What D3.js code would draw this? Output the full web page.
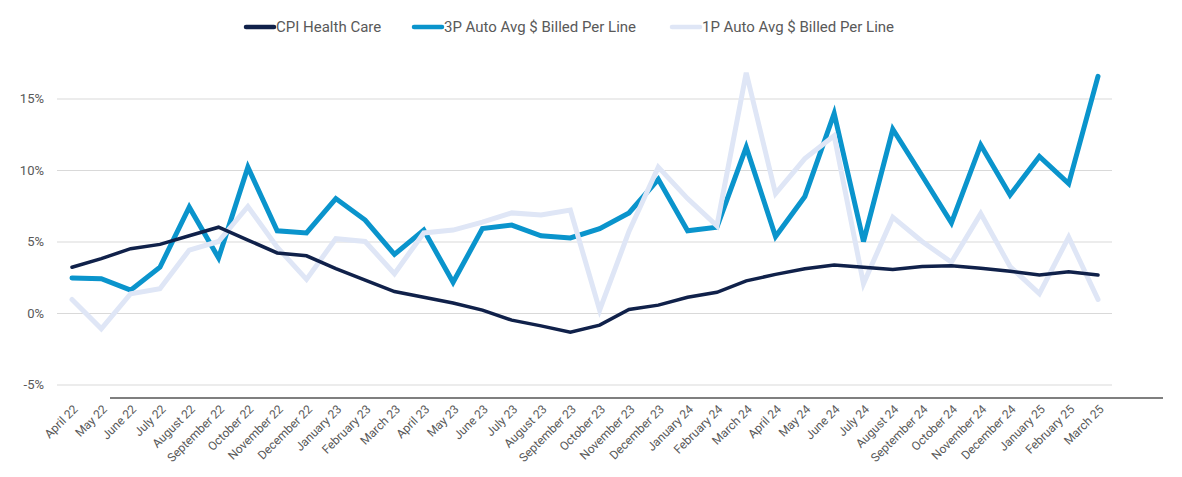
<!DOCTYPE html>
<html>
<script src='https://d3js.org/d3.v7.min.js'></script>
<style>
 body {margin: 0; background: #fff;}
 text {font-family: Roboto, sans-serif; fill: #595959;}
</style>
<body onload='init()'>
<svg width=1182 height=477>
</svg>
<script>
// months on the x axis
var months = ["April 22","May 22","June 22","July 22","August 22","September 22","October 22","November 22","December 22",
 "January 23","February 23","March 23","April 23","May 23","June 23","July 23","August 23","September 23","October 23","November 23","December 23",
 "January 24","February 24","March 24","April 24","May 24","June 24","July 24","August 24","September 24","October 24","November 24","December 24",
 "January 25","February 25","March 25"];

// series values, percent year over year
var cpiHealthCare = [3.2,3.8,4.5,4.8,5.4,6.0,5.1,4.2,4.0,3.1,2.3,1.5,1.1,0.7,0.2,-0.5,-0.9,-1.35,-0.85,0.25,0.55,1.1,1.45,2.25,2.7,3.1,3.35,3.2,3.05,3.25,3.3,3.13,2.92,2.66,2.89,2.66];
var autoBilled3P = [2.45,2.4,1.6,3.2,7.4,3.85,10.2,5.75,5.6,8.0,6.5,4.1,5.8,2.15,5.9,6.15,5.4,5.25,5.9,7.0,9.35,5.75,6.0,11.6,5.35,8.15,13.95,5.0,12.85,9.6,6.3,11.75,8.25,10.95,9.05,16.55];
var autoBilled1P = [0.95,-1.1,1.35,1.7,4.4,5.0,7.45,4.6,2.35,5.2,5.0,2.75,5.6,5.8,6.35,7.0,6.85,7.2,0.2,5.7,10.2,8.0,6.1,16.8,8.35,10.8,12.4,2.05,6.7,5.0,3.55,6.95,3.25,1.35,5.3,0.95];

var yTicks = [-5, 0, 5, 10, 15];

var series = [
 {name: "3P Auto Avg $ Billed Per Line", values: autoBilled3P, color: "#0a94cc", width: 5, legendX: 414},
 {name: "1P Auto Avg $ Billed Per Line", values: autoBilled1P, color: "#dfe6f6", width: 5, legendX: 672},
 {name: "CPI Health Care", values: cpiHealthCare, color: "#10214a", width: 3.5, legendX: 246}
];

function init() {
 var svg = d3.select("svg");
 var x = d3.scalePoint().domain(months).range([72, 1098]);
 var y = d3.scaleLinear().domain([-5, 15]).range([384.5, 98.5]);

 // gridlines + y labels
 var yAxis = svg.append("g")
  .attr("transform", "translate(57,0)")
  .call(d3.axisLeft(y).tickValues(yTicks).tickSize(-1055).tickPadding(13).tickFormat(function (d) { return d + "%"; }));
 yAxis.select(".domain").remove();
 yAxis.selectAll("line").attr("stroke", "#d9d9d9").attr("stroke-width", 1);
 yAxis.selectAll("text").style("font-size", "13px").style("fill", "#595959");

 // x axis
 var xAxis = svg.append("g")
  .attr("transform", "translate(0,398)")
  .call(d3.axisBottom(x).tickSize(0));
 xAxis.select(".domain").remove();
 xAxis.selectAll("text")
  .attr("x", 0).attr("y", 0).attr("dy", "0.35em")
  .attr("transform", "translate(3,9) rotate(-45)")
  .attr("text-anchor", "end")
  .style("font-size", "12px").style("fill", "#595959");
 svg.append("line")
  .attr("x1", 110).attr("x2", 1163).attr("y1", 398).attr("y2", 398)
  .attr("stroke", "#000").attr("stroke-width", 1.2);

 var line = d3.line()
  .x(function (d, i) { return x(months[i]); })
  .y(function (d) { return y(d); });

 svg.append("g").selectAll("path")
  .data(series)
  .enter()
  .append("path")
  .attr("d", function (s) { return line(s.values); })
  .attr("fill", "none")
  .attr("stroke", function (s) { return s.color; })
  .attr("stroke-width", function (s) { return s.width; })
  .attr("stroke-linejoin", "miter")
  .attr("stroke-linecap", "round");

 // legend
 var legend = svg.append("g").selectAll("g")
  .data(series)
  .enter()
  .append("g")
  .attr("transform", function (s) { return "translate(" + s.legendX + ",27)"; });
 legend.append("line")
  .attr("x1", 0).attr("x2", 28)
  .attr("stroke", function (s) { return s.color; })
  .attr("stroke-width", 4.5)
  .attr("stroke-linecap", "round");
 legend.append("text")
  .attr("x", 30).attr("dy", "0.35em")
  .style("font-size", "15px")
  .text(function (s) { return s.name; });
}
</script>
</body>
</html>
